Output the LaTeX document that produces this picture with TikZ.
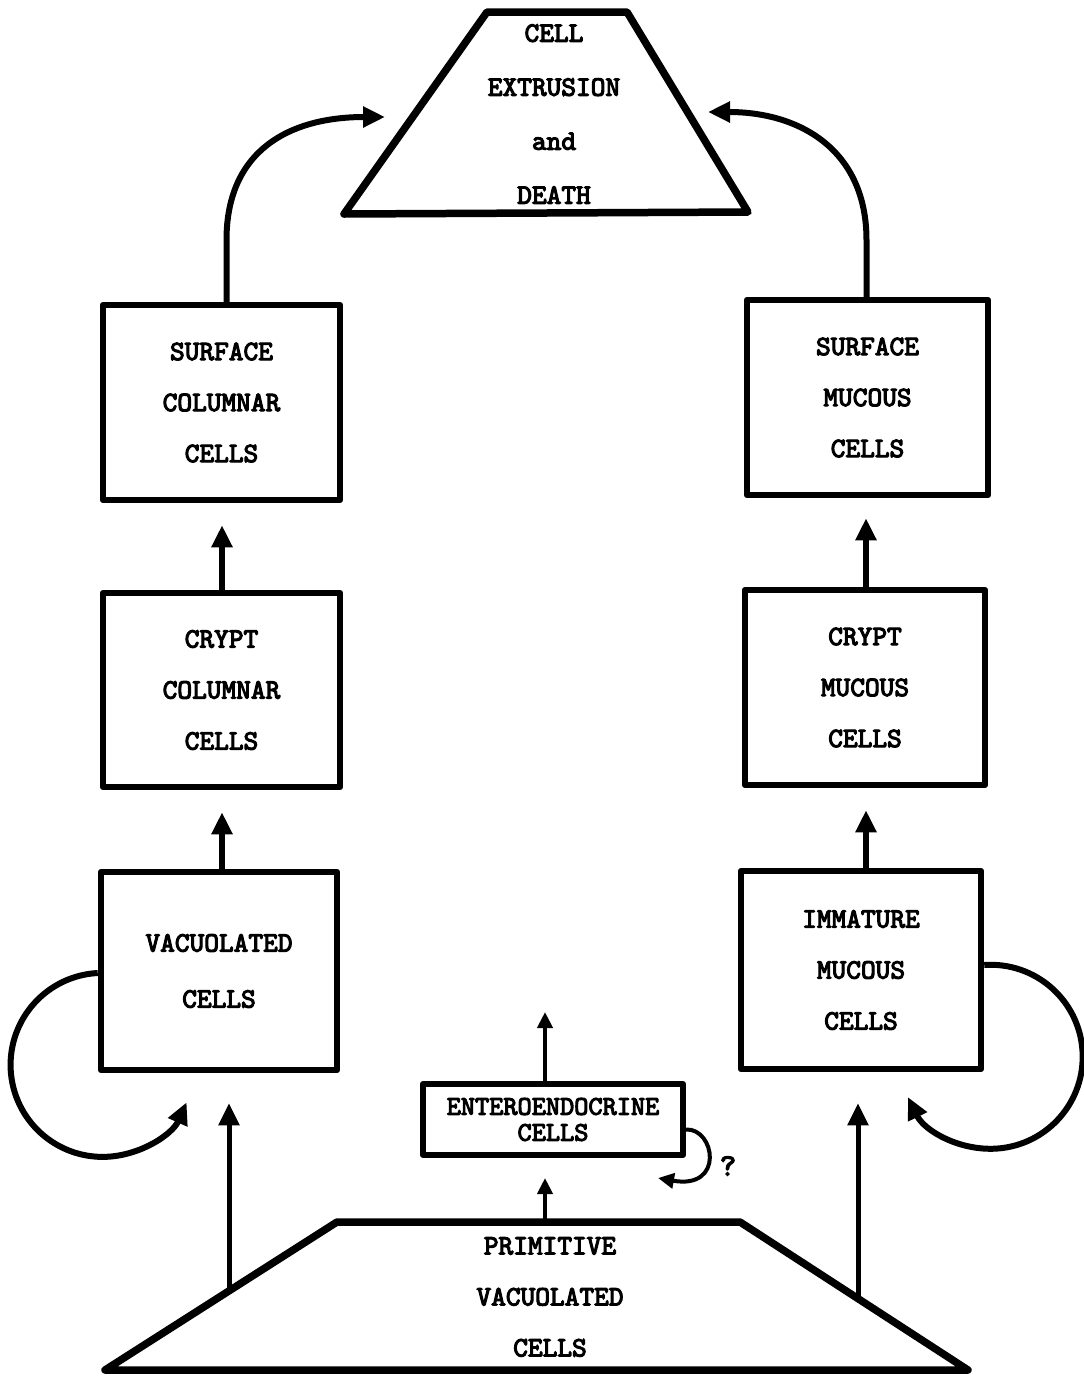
\documentclass[tikz,border=0pt]{standalone}
\usepackage{fontspec}
\newfontfamily\tyfont{lmmono10-regular.otf}[FakeBold=4]
\usetikzlibrary{arrows.meta}
\newcommand{\lblfont}[1]{\fontsize{28}{#1}\selectfont\tyfont}
\begin{document}
\begin{tikzpicture}[x=1pt,y=1pt,
  lbl/.style={align=center, inner sep=0pt},
  cellbox/.style={draw, line width=6.5pt, line join=round, minimum width=237pt, minimum height=195pt,
    font=\lblfont{51}, align=center, inner sep=2pt},
  trap/.style={draw, line width=7.5pt, line join=round},
  arr/.style={line width=6pt, -{Triangle[length=22pt,width=20pt]}},
  arrthin/.style={line width=4.5pt, -{Triangle[length=16pt,width=15pt]}},
]
\useasboundingbox (0,0) rectangle (1084,-1377);
\fill[white] (0,0) rectangle (1084,-1377);

% top trapezoid
\draw[trap] (487,-12) -- (627,-12) -- (748,-212) -- (344,-214) -- cycle;
\node[lbl, font=\lblfont{54}] (death) at (554,-114) {CELL\\EXTRUSION\\and\\DEATH};
\coordinate (dl) at (385,-117);
\coordinate (dr) at (708,-112);

% left column
\node[cellbox] (sc) at (221.5,-402.5) {SURFACE\\COLUMNAR\\CELLS};
\node[cellbox, minimum height=194pt] (cc) at (221.5,-690) {CRYPT\\COLUMNAR\\CELLS};
\node[cellbox, minimum width=236pt, minimum height=198pt, font=\lblfont{54}] (vac) at (219,-971) {VACUOLATED\\[2pt]CELLS};

% right column
\node[cellbox, minimum width=241pt] (sm) at (867.5,-397.5) {SURFACE\\MUCOUS\\CELLS};
\node[cellbox, minimum width=240pt] (cm) at (865,-687.5) {CRYPT\\MUCOUS\\CELLS};
\node[cellbox, minimum width=240pt, minimum height=198pt] (im) at (861,-970) {IMMATURE\\MUCOUS\\CELLS};

% enteroendocrine
\node[draw, line width=6pt, line join=round, minimum width=260pt, minimum height=71pt,
  font=\fontsize{27}{26}\selectfont\tyfont, align=center, inner sep=2pt] (ee) at (553,-1119.5) {ENTEROENDOCRINE\\CELLS};
\node[font=\fontsize{31}{31}\selectfont\tyfont, inner sep=0pt] (q) at (728,-1166) {?};

% primitive trapezoid
\draw[trap] (337,-1222) -- (740,-1222) -- (968,-1370) -- (105,-1370) -- cycle;
\node[lbl, font=\lblfont{51}] (prim) at (550,-1297) {PRIMITIVE\\VACUOLATED\\CELLS};
\coordinate (pl) at (229,-1291);
\coordinate (pr) at (858,-1298);
\coordinate (pc) at (545,-1222);
\coordinate (eu) at (545,-1012);
\coordinate (lx) at (222,0);
\coordinate (rx) at (866,0);

% vertical arrows between boxes
\draw[arr, shorten >=22pt] (lx |- vac.north) -- (lx |- cc.south);
\draw[arr, shorten >=22pt] (lx |- cc.north) -- (lx |- sc.south);
\draw[arr, shorten >=22pt] (rx |- im.north) -- (rx |- cm.south);
\draw[arr, shorten >=20pt] (rx |- cm.north) -- (rx |- sm.south);

% to death
\draw[arr] ([xshift=5]sc.north) -- (226.5,-240) .. controls (226.5,-150) and (290,-117) .. (dl);
\draw[arr] ([xshift=-1]sm.north) -- (866.5,-240) .. controls (866.5,-150) and (800,-112) .. (dr);

% self loops
\draw[arr] ([yshift=-2]vac.west) arc[start angle=93, end angle=336, radius=92];
\draw[arr] ([yshift=5]im.east) arc[start angle=94, end angle=-154, radius=92];

% from primitive
\draw[arr, line width=5pt, shorten >=30pt] (pl) -- (pl |- vac.south);
\draw[arr, line width=5pt, shorten >=31pt] (pr) -- (pr |- im.south);
\draw[arrthin, shorten >=20pt] (pc) -- (pc |- ee.south);
\draw[arrthin] (pc |- ee.north) -- (eu);
\draw[arrthin, line width=4pt] ([yshift=-10]ee.east) .. controls (715,-1128) and (725,-1190) .. (658,-1178);
\end{tikzpicture}
\end{document}
